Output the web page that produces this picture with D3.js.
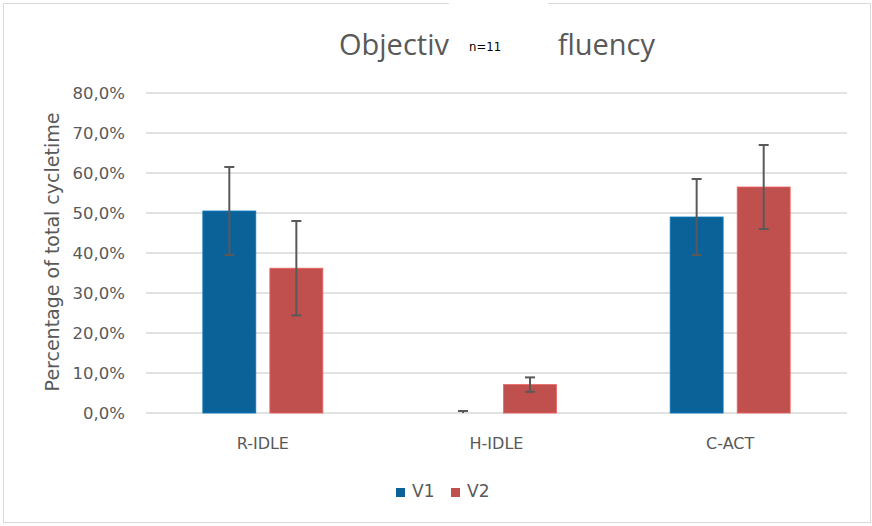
<!DOCTYPE html>
<html>
<head>
<meta charset="utf-8">
<script src="https://cdn.jsdelivr.net/npm/d3@7"></script>
<style>
  body { margin: 0; background: #fff; }
  text { font-family: "DejaVu Sans", sans-serif; }
</style>
</head>
<body>
<div id="chart"></div>
<script>
// data
const categories = ["R-IDLE", "H-IDLE", "C-ACT"];
const seriesNames = ["V1", "V2"];
const v1 = [50.5, 0.0, 49.0];
const v2 = [36.2, 7.1, 56.5];
const v1Err = [11.0, 0.5, 9.5];
const v2Err = [11.8, 1.8, 10.5];
const yTicks = [0, 10, 20, 30, 40, 50, 60, 70, 80];

var W = 872, H = 526;
var margin = {top: 93, right: 25, bottom: 113, left: 146},
    width = W - margin.left - margin.right,
    height = H - margin.top - margin.bottom;

var colors = {V1: "#0B6299", V2: "#C0504D"};
var values = {V1: v1, V2: v2};
var errs = {V1: v1Err, V2: v2Err};

var svg = d3.select("#chart").append("svg")
    .attr("width", W).attr("height", H);

// outer chart border
svg.append("rect")
    .attr("x", 3.5).attr("y", 3.5)
    .attr("width", W - 5).attr("height", H - 7)
    .attr("fill", "#fff").attr("stroke", "#D9D9D9").attr("stroke-width", 1);

var g = svg.append("g").attr("transform", "translate(" + margin.left + "," + margin.top + ")");

var x = d3.scaleBand().domain(categories).range([0, width]);
var xs = d3.scaleBand().domain(seriesNames).range([x.bandwidth() / 2 - 60, x.bandwidth() / 2 + 60]).paddingInner(0.21);
var y = d3.scaleLinear().domain([0, 80]).range([height, 0]);

// gridlines
g.selectAll(".grid").data(yTicks).enter().append("line")
    .attr("x1", 0).attr("x2", width)
    .attr("y1", d => y(d)).attr("y2", d => y(d))
    .attr("stroke", "#D9D9D9").attr("stroke-width", 1.3);

// y axis labels
var fmt = d => d3.format(".1f")(d).replace(".", ",") + "%";
g.selectAll(".ylab").data(yTicks).enter().append("text")
    .attr("x", -21).attr("y", d => y(d)).attr("dy", "0.35em")
    .attr("text-anchor", "end").attr("font-size", 16.5).attr("fill", "#595959")
    .text(fmt);

// bars
var rows = [];
categories.forEach(function(c, i) {
  seriesNames.forEach(function(s) {
    rows.push({cat: c, s: s, v: values[s][i], e: errs[s][i]});
  });
});

g.selectAll(".bar").data(rows).enter().append("rect")
    .attr("x", d => x(d.cat) + xs(d.s))
    .attr("y", d => y(d.v))
    .attr("width", xs.bandwidth())
    .attr("height", d => y(0) - y(d.v))
    .attr("fill", d => colors[d.s])
    .attr("stroke", d => d3.color(colors[d.s]).brighter(0.6))
    .attr("stroke-width", 0.8);

// error bars
var eb = g.selectAll(".err").data(rows).enter().append("g")
    .attr("transform", d => "translate(" + (x(d.cat) + xs(d.s) + xs.bandwidth() / 2) + ",0)");
eb.append("line")
    .attr("y1", d => y(d.v + d.e)).attr("y2", d => y(Math.max(0, d.v - d.e)))
    .attr("stroke", "#595959").attr("stroke-width", 2);
eb.append("line")
    .attr("x1", -5).attr("x2", 5)
    .attr("y1", d => y(d.v + d.e)).attr("y2", d => y(d.v + d.e))
    .attr("stroke", "#595959").attr("stroke-width", 2);
eb.filter(d => d.v - d.e >= 0).append("line")
    .attr("x1", -5).attr("x2", 5)
    .attr("y1", d => y(d.v - d.e)).attr("y2", d => y(d.v - d.e))
    .attr("stroke", "#595959").attr("stroke-width", 2);

// category labels
g.selectAll(".xlab").data(categories).enter().append("text")
    .attr("x", d => x(d) + x.bandwidth() / 2)
    .attr("y", height + 36)
    .attr("text-anchor", "middle").attr("font-size", 16).attr("fill", "#595959")
    .text(d => d);

// y axis title
svg.append("text")
    .attr("transform", "translate(59,252) rotate(-90)")
    .attr("text-anchor", "middle").attr("font-size", 19).attr("fill", "#595959")
    .text("Percentage of total cycletime");

// title (middle part is hidden behind the n=11 box)
var title = svg.append("text")
    .attr("y", 55)
    .attr("font-size", 29).attr("fill", "#595959")
    .style("font-family", "'Open Sans', sans-serif");
title.append("tspan").attr("x", 339).text("Objective");
title.append("tspan").attr("x", 655).attr("text-anchor", "end").text("fluency");

// white n=11 box over the title
svg.append("rect")
    .attr("x", 449).attr("y", 0).attr("width", 99).attr("height", 60)
    .attr("fill", "#fff");
svg.append("text")
    .attr("x", 469).attr("y", 51)
    .attr("font-size", 11.7).attr("fill", "#000")
    .text("n=11");

// legend
var leg = svg.selectAll(".leg").data(seriesNames).enter().append("g")
    .attr("transform", (d, i) => "translate(" + (396 + i * 55) + ",488)");
leg.append("rect").attr("width", 9).attr("height", 9).attr("fill", d => colors[d]);
leg.append("text").attr("x", 16).attr("y", 9)
    .attr("font-size", 17).attr("fill", "#595959").text(d => d);
</script>
</body>
</html>
